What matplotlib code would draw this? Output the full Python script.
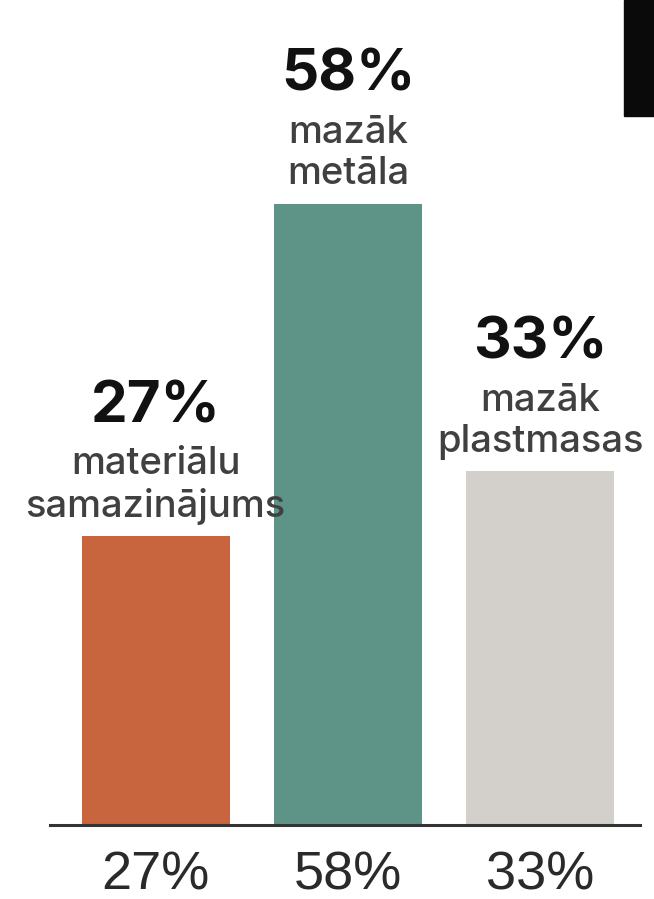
import matplotlib.pyplot as plt
from matplotlib.patches import Rectangle

categories = ["materiālu\nsamazinājums", "mazāk\nmetāla", "mazāk\nplastmasas"]
values = [27, 58, 33]
value_labels = ["27%", "58%", "33%"]
colors = ["#C8653F", "#5E9488", "#D3D0CC"]

fig = plt.figure(figsize=(6.54, 8.99), dpi=100)
# axes placed so the baseline sits near the bottom like the reference
ax = fig.add_axes([50 / 654, (899 - 825) / 899, 590 / 654, 825 / 899])

x = range(len(values))
bars = ax.bar(x, values, width=0.77, color=colors, zorder=2)

ax.set_xlim(-0.55, 2.52)
ax.set_ylim(0, 77)

for spine in ["top", "right", "left"]:
    ax.spines[spine].set_visible(False)
ax.spines["bottom"].set_color("#333333")
ax.spines["bottom"].set_linewidth(2.2)
ax.set_yticks([])
ax.set_xticks(list(x))
ax.set_xticklabels(value_labels, fontsize=39, family="Liberation Sans",
                   color="#2a2a2a")
ax.tick_params(axis="x", length=0, pad=18)

# labels above bars
for i, (v, lab, cat) in enumerate(zip(values, value_labels, categories)):
    ax.annotate(cat, xy=(i, v), xytext=(0, 8), textcoords="offset points",
                ha="center", va="bottom", fontsize=27.5, family="Inter",
                fontweight="medium", color="#404040", linespacing=1.2)
    ax.annotate(lab, xy=(i, v), xytext=(0, 73), textcoords="offset points",
                ha="center", va="bottom", fontsize=42, family="Inter",
                fontweight="bold", color="#111111")

# black block in the top right corner
fig.patches.append(Rectangle((624 / 654, 1 - 116 / 899), 30 / 654, 116 / 899,
                             transform=fig.transFigure, color="#0a0a0a"))

fig.savefig("out.png", dpi=100)
